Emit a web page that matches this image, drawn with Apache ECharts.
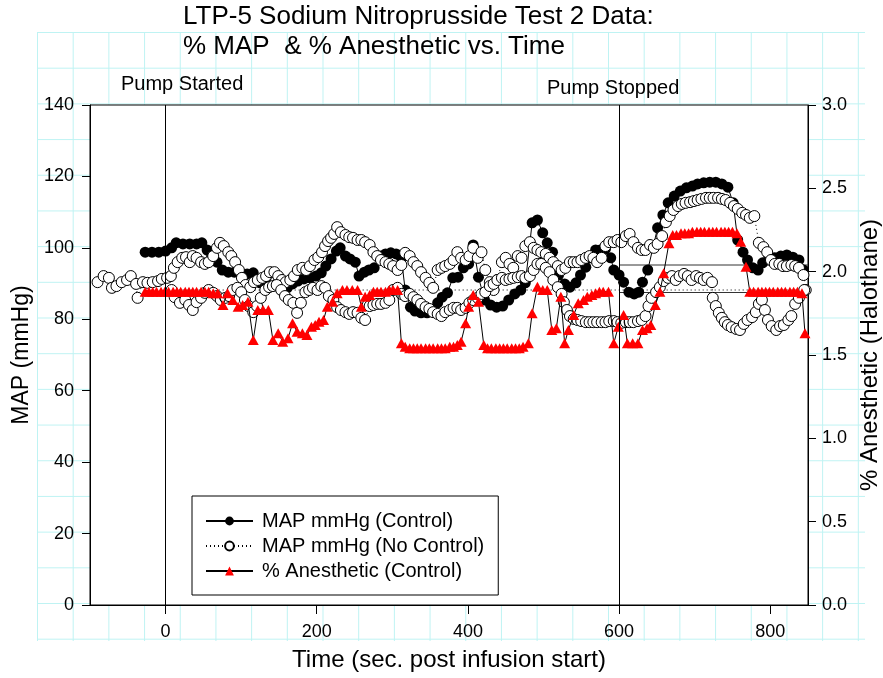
<!DOCTYPE html>
<html><head><meta charset="utf-8">
<script src="https://cdn.jsdelivr.net/npm/echarts@6/dist/echarts.min.js"></script>
<style>
html,body{margin:0;padding:0;background:#fff;}
#wrap{position:relative;width:883px;height:678px;overflow:hidden;}
#paper{position:absolute;left:37px;top:32px;width:828px;height:609px;
background-image:linear-gradient(to right,#bff3f3 1px,transparent 1px),linear-gradient(to bottom,#bff3f3 1px,transparent 1px);
background-size:35.7px 35.7px;}
#chart{position:absolute;left:0;top:0;width:883px;height:678px;}
</style></head><body>
<div id="wrap"><div id="paper"></div><div id="chart"></div></div>
<script>
// ---------------- data ----------------
const titleText = 'LTP-5 Sodium Nitroprusside Test 2 Data:\n% MAP  & % Anesthetic vs. Time';
const seriesNames = ['MAP mmHg (Control)', 'MAP mmHg (No Control)', '% Anesthetic (Control)'];
const xTicks = [0, 200, 400, 600, 800];
const pumpEvents = [0, 600];
const pumpLabels = ['Pump Started', 'Pump Stopped'];

const controlTime = [-27,-18,-9,0,8,14,23,32,41,48,55,61,68,75,83,91,99,108,116,125,133,140,146,153,161,168,175,183,191,199,206,212,219,226,231,238,244,251,256,263,269,276,284,291,298,305,312,317,324,330,338,346,353,360,366,373,380,387,394,401,407,414,422,430,438,446,454,462,470,476,485,492,499,505,512,520,528,535,543,549,556,562,569,575,582,589,593,600,606,613,620,626,631,638,645,651,658,665,673,681,689,697,704,712,720,728,736,744,751,757,764,770,777,784,790,798,806,814,822,830,838,844];
const controlMap = [98.8,98.8,98.8,99.1,100,101.4,101.1,101.1,101.1,101.4,99.4,97.7,96,93.8,93.2,93.2,93,92.7,93,90.2,91.6,93.2,89.6,88.2,88.8,89.9,90.7,91.3,91.6,92.1,93,94.9,96.9,99.1,100,97.7,96.9,96,92.1,93.2,93.8,94.4,97.7,98.3,98.6,98.3,97.2,88.2,83.4,82.3,81.8,81.8,82.6,84.6,86.2,87.4,91.6,91.8,94.4,95.5,100.8,91.8,85.4,84,83.4,83.7,85.4,87.1,88.2,90.2,107,107.8,104.2,101.4,98.8,92.4,89.9,89,90.2,92.4,94.6,97.2,99.4,99.4,99.7,97.2,93.8,92.4,90.4,87.6,87.1,87.6,90.4,93.8,100.2,105.6,109.2,112.6,114.5,115.9,116.8,117.3,117.9,118.2,118.4,118.4,117.9,117,112.6,102.2,98.8,96.6,94.4,93.8,95.8,97.7,97.2,97.7,98,97.4,96.6,93.8];

const noCtrlTimeA = [-90,-82,-75,-71,-65,-58,-51,-46,-39,-37,-30,-24,-17,-10,-5,2,7,11,16,22,27,32,36,41,47,52,57,63,68,72,77,83,87,92,97,101,106,112,117,122,128,133,138,144,149,154,159,165,170,175,181,186,191,197,202,207,211,215,219,223,227,232,238,243,248,254,259,264,270,275,280,285,291,296,301,307,312,317,323,328,333,338,344,349,354,360,365,370,376,381,386,391,397,402,407,413,418,423,429,434,439,445,450,455,460,466,471,476,482,487,492,497,503,508,513,519,524,529,535,540,545,550,556,561,566,571,577,582,587,593,598,603,609,614,619,625,630,635,641,646,651,657,662,667,672,678,683,688,694,699,704,709,715,720,725,731,736,741,747,752,757,763,768,773,779,785,791,796,801,806,812,817,822,828,833,838,844,847];
const noCtrlMapA = [90.4,92.1,91.6,88.8,89.3,90.4,91.0,92.1,89.9,86.0,90.4,90.2,90.4,90.7,91.3,91.6,92.1,94.4,96.0,97.2,97.4,96.0,97.7,97.2,96.0,95.5,96.0,97.7,100.0,101.4,100.5,98.8,97.7,96.0,93.8,91.6,89.6,89.0,90.4,91.0,91.6,92.1,93.2,93.2,92.1,91.0,90.4,91.0,92.1,93.8,94.4,93.8,94.9,96.6,97.4,98.8,100.5,101.9,102.8,103.9,105.8,104.4,103.6,103.0,102.8,102.2,102.2,101.6,100.8,98.8,97.7,96.6,96.0,95.5,94.9,93.8,95.2,98.6,97.7,96.0,94.9,93.2,91.6,90.2,88.8,93.8,94.4,94.9,95.5,96.6,98.8,97.2,96.6,97.7,100.0,97.2,98.8,93.8,90.4,88.2,91.0,96.0,97.2,95.5,94.4,97.7,97.2,100.5,101.6,100.0,99.4,98.8,98.3,97.2,96.0,94.9,93.8,94.4,96.0,96.0,96.0,96.6,97.2,97.7,97.2,96.0,97.2,100.5,101.6,101.6,102.2,101.6,103.3,103.9,101.6,100.0,99.4,99.4,100.8,100.0,101.1,103.3,107.2,108.9,110.6,111.7,112.3,112.6,112.8,113.1,113.4,113.7,114.0,114.0,114.0,114.0,113.7,113.4,112.6,111.7,110.9,109.8,109.2,108.4,108.9,101.4,100.2,98.8,96.6,95.5,95.5,94.9,94.9,95.2,94.9,94.4,92.4,88.2];

const noCtrlTimeB = [8,12,19,26,31,36,41,47,52,57,63,68,73,79,84,89,95,100,105,110,116,121,126,132,137,142,147,153,158,163,169,174,179,185,190,195,201,206,211,216,222,227,232,238,243,248,254,259,264,270,275,280,285,291,296,301,307,312,317,323,328,333,338,344,349,354,360,365,370,376,381,386,391,397,402,407,413,418,423,429,434,439,445,450,455,460,466,471,476,482,487,492,497,503,508,513,519,524,527,531,535,540,545,550,556,561,566,571,577,582,587,593,598,603,609,614,619,625,630,635,639,643,649,654,659,665,670,675,680,686,691,696,702,707,712,717,723,724,728,732,736,740,744,749,755,760,765,770,776,781,785,789,793,797,802,808,813,818,824,828,833,838,845];
const noCtrlMapB = [88.2,86.2,84.6,85.4,84.0,82.6,84.8,86.0,87.4,88.2,87.4,86.5,85.4,86.0,86.5,88.2,88.8,87.6,85.4,83.7,82.0,83.7,86.0,88.2,89.0,89.3,89.6,88.2,86.5,85.4,84.6,81.8,84.6,87.6,88.2,88.8,88.2,89.3,88.8,86.5,85.4,83.4,82.6,82.0,81.5,82.0,81.8,80.4,79.8,83.7,84.0,84.3,84.3,84.6,85.4,88.2,88.8,87.1,86.5,87.1,86.2,85.4,84.3,83.4,82.9,82.0,81.5,80.9,82.0,82.6,83.2,83.2,82.6,83.2,84.6,85.4,86.0,87.1,87.6,89.3,89.9,91.0,91.6,91.0,91.3,91.6,91.8,92.1,91.6,92.1,93.8,95.5,95.5,94.4,93.2,91.0,89.0,87.1,84.8,82.6,80.9,80.1,79.8,79.5,79.2,79.2,79.2,79.2,79.2,79.2,79.5,79.5,79.2,79.0,79.2,79.2,79.2,79.5,79.8,80.9,83.7,86.0,87.6,89.0,90.7,91.6,92.1,91.0,92.1,92.7,92.1,91.0,92.1,91.6,91.0,91.6,90.4,86.0,83.7,81.8,80.4,79.2,78.4,77.8,77.3,77.0,78.7,79.8,80.6,82.0,84.3,85.4,82.6,79.8,78.1,77.0,78.1,78.4,79.8,80.9,84.3,86.0,88.2];

const anesTime = [-27,-22,-17,-12,-6,-1,4,10,15,20,26,31,36,41,47,52,57,63,69,76,82,89,96,102,109,116,122,129,136,142,149,155,162,168,174,181,187,193,198,203,209,214,221,227,234,240,247,254,259,264,270,275,280,285,291,296,301,307,312,317,323,328,333,338,344,349,354,360,365,370,376,381,386,391,397,401,407,414,421,426,431,437,442,447,452,458,463,468,473,480,485,492,499,505,511,517,523,528,533,540,546,553,558,564,569,574,579,586,593,599,606,611,618,625,631,637,642,648,654,659,666,671,676,682,687,692,697,703,708,713,719,724,729,735,740,745,750,756,761,768,773,778,784,789,794,799,804,810,815,820,826,831,836,842,846];
const anesPct = [1.88,1.88,1.88,1.88,1.88,1.88,1.88,1.88,1.88,1.88,1.88,1.88,1.88,1.88,1.88,1.88,1.88,
1.87,1.87,1.80,1.87,1.83,1.79,1.80,1.82,1.59,1.77,1.77,1.77,1.59,1.63,1.58,1.60,1.69,1.64,1.63,1.62,1.67,1.68,1.70,1.71,1.79,1.82,1.87,1.89,1.89,1.89,1.89,1.79,1.85,1.86,1.88,1.88,1.88,1.88,1.89,1.89,1.89,
1.57,1.55,1.54,
1.54,1.54,1.54,1.54,1.54,1.54,1.54,1.54,1.54,
1.55,1.55,1.56,1.58,1.69,1.79,1.86,1.82,1.56,
1.54,1.54,1.54,1.54,1.54,1.54,1.54,1.54,1.54,
1.55,1.57,1.75,1.91,1.89,1.89,1.65,1.66,1.85,1.57,1.65,1.74,1.81,1.83,1.85,1.86,1.87,1.88,1.88,1.88,1.57,1.67,1.74,1.57,1.57,1.57,1.65,1.66,1.68,1.80,1.88,1.99,2.17,2.22,2.22,2.23,2.23,2.23,
2.24,2.24,2.24,2.24,2.24,2.24,2.24,2.24,2.24,2.24,2.24,
2.23,2.18,2.03,1.88,
1.88,1.88,1.88,1.88,1.88,1.88,1.88,1.88,1.88,1.88,1.88,1.88,
1.87,1.63];

// horizontal reference segments seen after the pump stopped
const refSegHighX = [600, 850], refSegHighY = [95.2, 95.2];
const refSegLowX = [600, 778], refSegLowY = [87.5, 87.5];

// ---------------- chart ----------------
const FONT = "'Liberation Sans', Arial, Helvetica, sans-serif";
const zip = (a, b) => a.map((v, i) => [v, b[i]]);
const noCtrlData = zip(noCtrlTimeA, noCtrlMapA).concat(zip(noCtrlTimeB, noCtrlMapB));

const chart = echarts.init(document.getElementById('chart'), null, {renderer: 'canvas'});
const option = {
  animation: false,
  textStyle: {fontFamily: FONT, color: '#000'},
  title: {
    text: titleText, left: 183, top: 2, padding: 0,
    textStyle: {fontSize: 26, fontWeight: 'normal', color: '#000', lineHeight: 30, fontFamily: FONT}
  },
  grid: {left: 90, right: 75, top: 105, bottom: 73, show: true, backgroundColor: '#fff', borderColor: '#000', borderWidth: 1,
         outerBoundsMode: 'none', containLabel: false},
  legend: {
    orient: 'vertical', left: 192, top: 496, padding: [15, 14, 14, 13], itemGap: 5,
    itemWidth: 47, itemHeight: 11, backgroundColor: '#fff', borderColor: '#000', borderWidth: 1, borderRadius: 0,
    textStyle: {fontSize: 20, color: '#000', fontFamily: FONT, padding: [0, 0, 0, 4]},
    data: seriesNames, selectedMode: false
  },
  xAxis: {
    type: 'value', min: -100, max: 850,
    name: 'Time (sec. post infusion start)', nameLocation: 'middle', nameGap: 43,
    nameTextStyle: {fontSize: 24, color: '#000', fontFamily: FONT},
    axisLine: {onZero: false, lineStyle: {color: '#000', width: 1}},
    axisTick: {inside: false, length: 9, customValues: xTicks, lineStyle: {color: '#000'}},
    axisLabel: {customValues: xTicks, fontSize: 18, color: '#000', margin: 18, fontFamily: FONT},
    splitLine: {show: false}
  },
  yAxis: [{
    type: 'value', min: 0, max: 140, interval: 20, position: 'left',
    name: 'MAP (mmHg)', nameLocation: 'middle', nameGap: 56, nameRotate: 90,
    nameTextStyle: {fontSize: 23, color: '#000', fontFamily: FONT},
    axisLine: {show: true, onZero: false, lineStyle: {color: '#000'}},
    axisTick: {show: true, inside: false, length: 8, lineStyle: {color: '#000'}},
    axisLabel: {fontSize: 18, color: '#000', margin: 16, fontFamily: FONT},
    splitLine: {show: false}
  }, {
    type: 'value', min: 0, max: 3, interval: 0.5, position: 'right',
    name: '% Anesthetic (Halothane)', nameLocation: 'middle', nameGap: 49, nameRotate: 90,
    nameTextStyle: {fontSize: 24, color: '#000', fontFamily: FONT},
    axisLine: {show: true, onZero: false, lineStyle: {color: '#000'}},
    axisTick: {show: true, inside: false, length: 8, lineStyle: {color: '#000'}},
    axisLabel: {fontSize: 18, color: '#000', margin: 14, fontFamily: FONT, formatter: v => v.toFixed(1)},
    splitLine: {show: false}
  }],
  series: [{
    type: 'line', name: 'ref-high', data: zip(refSegHighX, refSegHighY), symbol: 'none',
    lineStyle: {color: '#333', width: 1}, silent: true, z: 1
  }, {
    type: 'line', name: 'ref-low', data: zip(refSegLowX, refSegLowY), symbol: 'none',
    lineStyle: {color: '#333', width: 1}, silent: true, z: 1
  }, {
    type: 'line', name: seriesNames[0], data: zip(controlTime, controlMap),
    symbol: 'circle', symbolSize: 11,
    itemStyle: {color: '#000', borderColor: '#000', borderWidth: 0},
    lineStyle: {color: '#000', width: 1},
    emphasis: {disabled: true}, z: 2,
    markLine: {
      silent: true, symbol: 'none', label: {show: false},
      lineStyle: {color: '#000', width: 1, type: 'solid'},
      data: pumpEvents.map(v => ({xAxis: v}))
    }
  }, {
    type: 'line', name: seriesNames[1], data: noCtrlData,
    symbol: 'circle', symbolSize: 11,
    itemStyle: {color: '#fff', borderColor: '#000', borderWidth: 1},
    lineStyle: {color: '#000', width: 1, type: [1, 3]},
    emphasis: {disabled: true}, z: 3
  }, {
    type: 'line', name: seriesNames[2], yAxisIndex: 1, data: zip(anesTime, anesPct),
    symbol: 'triangle', symbolSize: [11, 10],
    itemStyle: {color: '#ff0000'},
    lineStyle: {color: '#000', width: 1},
    emphasis: {disabled: true}, z: 4
  }],
  graphic: [
    {type: 'text', left: 121, top: 74, style: {text: pumpLabels[0], font: '20px ' + FONT, fill: '#000'}},
    {type: 'text', left: 547, top: 78, style: {text: pumpLabels[1], font: '20px ' + FONT, fill: '#000'}}
  ]
};
chart.setOption(option);
</script>
</body></html>
